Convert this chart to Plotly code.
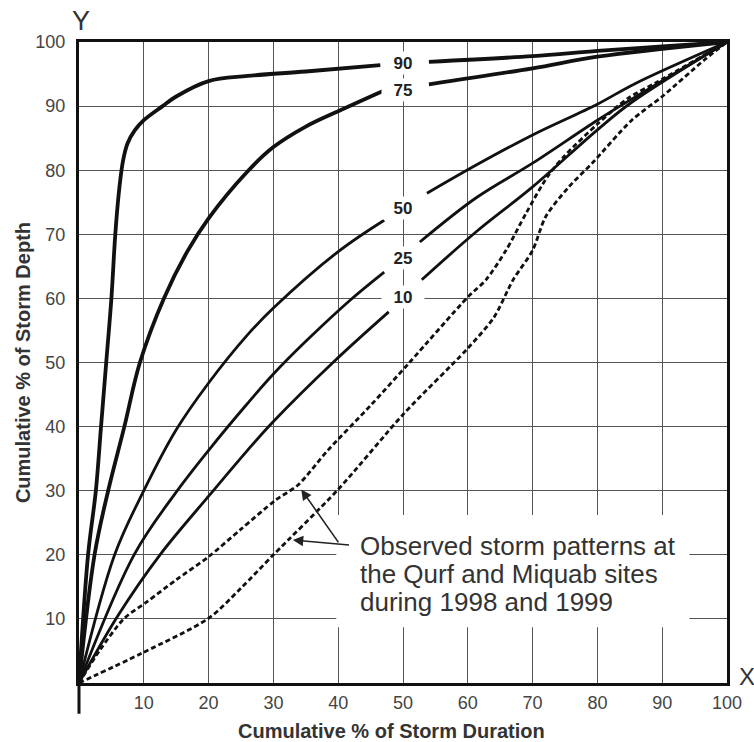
import plotly.graph_objects as go

# ---- data ----
x90 = [0, 1.4, 2.6, 3.4, 4.2, 5.0, 5.6, 6.2, 6.8, 7.5, 8.6, 10.0, 12.9, 15.0, 20.0, 26.0, 35.0, 46.5, None, 54.0, 70.0, 80.0, 90.0, 100]
y90 = [0, 20, 30, 40, 50, 60, 70, 77, 81.5, 84.2, 86.2, 87.8, 90.0, 91.5, 93.9, 94.7, 95.4, 96.4, None, 96.9, 97.8, 98.6, 99.3, 100]

x75 = [0, 2.4, 4.5, 7.0, 9.4, 13.1, 16.7, 20.0, 26.0, 30.0, 35.0, 40.0, 47.0, None, 54.0, 70.0, 80.0, 100]
y75 = [0, 20, 30, 40, 50, 60, 67.3, 72.5, 79.8, 83.6, 86.8, 89.2, 92.4, None, 93.4, 95.9, 97.7, 100]

x50 = [0, 5.5, 10.0, 15.0, 20.0, 26.0, 30.0, 40.0, 47.1, None, 53.7, 61.3, 70.0, 80.0, 85.8, 100]
y50 = [0, 20, 30, 39.5, 46.8, 54.3, 58.5, 67.3, 72.2, None, 76.4, 80.8, 85.5, 90.3, 93.5, 100]

x25 = [0, 8.5, 14.8, 20.0, 26.0, 30.0, 35.0, 41.7, 47.1, None, 52.6, 61.3, 70.0, 80.0, 85.8, 100]
y25 = [0, 20, 29.5, 36.3, 43.6, 48.2, 53.3, 59.6, 64.1, None, 68.8, 75.7, 81.1, 87.8, 91.4, 100]

x10 = [0, 6.0, 12.5, 20.3, 26.0, 30.0, 39.4, 47.8, None, 52.9, 61.3, 70.0, 80.0, 85.3, 100]
y10 = [0, 10.5, 20, 29.5, 36.3, 40.8, 50.2, 57.9, None, 62.9, 70.4, 77.4, 86.3, 90.6, 100]

obsA_x = [0, 3.2, 7.0, 10.4, 15.0, 20.0, 25.0, 30.3, 33.8, 38.4, 45.0, 51.0, 60.0, 62.8, 65.9, 69.0, 72.3, 75.0, 80.0, 84.7, 89.3, 100]
obsA_y = [0, 5.1, 10.1, 12.6, 16.1, 19.7, 24.0, 28.5, 30.9, 36.3, 43.3, 50.0, 60.2, 62.9, 67.5, 73.3, 79.0, 82.3, 87.2, 91.2, 93.8, 100]

obsB_x = [0, 9.8, 20.0, 25.0, 30.0, 39.9, 50.2, 59.8, 64.0, 67.0, 70.0, 72.0, 75.5, 79.2, 85.3, 90.0, 96.5, 100]
obsB_y = [0, 4.7, 10.1, 14.8, 20.0, 30.1, 42.1, 52.0, 57.0, 62.9, 67.5, 72.7, 77.3, 81.1, 87.8, 91.5, 97.2, 100]

curve_labels = ["90", "75", "50", "25", "10"]
label_y = [96.7, 92.5, 74.1, 66.3, 60.2]
label_x = 50

ticks = [10, 20, 30, 40, 50, 60, 70, 80, 90, 100]
note_lines = ["Observed storm patterns at", "the Qurf and Miquab sites", "during 1998 and 1999"]
note_y = [21.4, 17.0, 12.6]

FONT = "Liberation Sans, Arial, sans-serif"

fig = go.Figure()

solid = [(x90, y90, 3.8), (x75, y75, 3.8), (x50, y50, 2.8), (x25, y25, 2.8), (x10, y10, 2.8)]
for xs, ys, w in solid:
    fig.add_trace(go.Scatter(x=xs, y=ys, mode="lines", showlegend=False,
                             line=dict(color="#111111", width=w, shape="spline", smoothing=1.0),
                             hoverinfo="skip"))

for xs, ys in [(obsA_x, obsA_y), (obsB_x, obsB_y)]:
    fig.add_trace(go.Scatter(x=xs, y=ys, mode="lines", showlegend=False,
                             line=dict(color="#111111", width=2.8, dash="5px,3px",
                                       shape="spline", smoothing=0.8),
                             hoverinfo="skip"))

# white box behind the note (hides grid only)
fig.add_shape(type="rect", xref="x", yref="y", x0=39.7, x1=94.2, y0=8.7, y1=26.2,
              fillcolor="white", line=dict(width=0), layer="between")

annotations = []
for t, yy in zip(curve_labels, label_y):
    annotations.append(dict(x=label_x, y=yy, xref="x", yref="y", text="<b>%s</b>" % t,
                            showarrow=False, font=dict(size=17, color="#222", family=FONT),
                            bgcolor="white", width=40, height=20, borderpad=1))

for t, yy in zip(note_lines, note_y):
    annotations.append(dict(x=43.0, y=yy, xref="x", yref="y", text=t, showarrow=False,
                            xanchor="left", yanchor="middle",
                            font=dict(size=26, color="#333", family=FONT)))

# arrows from the note to the two observed curves
annotations.append(dict(x=34.3, y=30.2, ax=40.2, ay=21.7, xref="x", yref="y", axref="x", ayref="y",
                        text="", showarrow=True, arrowhead=2, arrowsize=1.3, arrowwidth=1.6,
                        arrowcolor="#222"))
annotations.append(dict(x=33.0, y=22.3, ax=41.9, ay=21.5, xref="x", yref="y", axref="x", ayref="y",
                        text="", showarrow=True, arrowhead=2, arrowsize=1.3, arrowwidth=1.6,
                        arrowcolor="#222"))

# axis titles and axis letters
annotations.append(dict(x=0.482, y=-0.075, xref="paper", yref="paper",
                        text="<b>Cumulative % of Storm Duration</b>", showarrow=False,
                        font=dict(size=20, color="#333", family=FONT),
                        xanchor="center", yanchor="middle"))
annotations.append(dict(x=-0.087, y=0.5, xref="paper", yref="paper",
                        text="<b>Cumulative % of Storm Depth</b>", showarrow=False, textangle=-90,
                        font=dict(size=20, color="#333", family=FONT), xanchor="center", yanchor="middle"))
annotations.append(dict(x=0.003, y=1.032, xref="paper", yref="paper", text="Y", showarrow=False,
                        font=dict(size=27, color="#333", family=FONT),
                        xanchor="center", yanchor="middle"))
annotations.append(dict(x=1.016, y=0.01, xref="paper", yref="paper", text="X", showarrow=False,
                        xanchor="left", font=dict(size=24, color="#333", family=FONT), yanchor="middle"))

# small extension of the y axis below the origin
fig.add_shape(type="line", xref="paper", yref="paper", x0=0, x1=0, y0=0, y1=-0.048,
              line=dict(color="#111", width=3))

axis_common = dict(range=[0, 100], tickvals=ticks, ticktext=[str(t) for t in ticks],
                   showgrid=True, gridcolor="#555555", gridwidth=1.3, zeroline=False,
                   showline=True, linecolor="#111", linewidth=3, mirror=True,
                   ticks="", tickfont=dict(size=18, color="#444", family=FONT), fixedrange=True)

xaxis = dict(axis_common, ticklabelstandoff=1)
yaxis = dict(axis_common, ticklabelstandoff=7)

fig.update_layout(
    width=754, height=742,
    margin=dict(l=79, r=21, t=42, b=59),
    paper_bgcolor="white", plot_bgcolor="white",
    xaxis=xaxis, yaxis=yaxis,
    annotations=annotations,
    font=dict(family=FONT),
)

fig.write_html("out.html")
